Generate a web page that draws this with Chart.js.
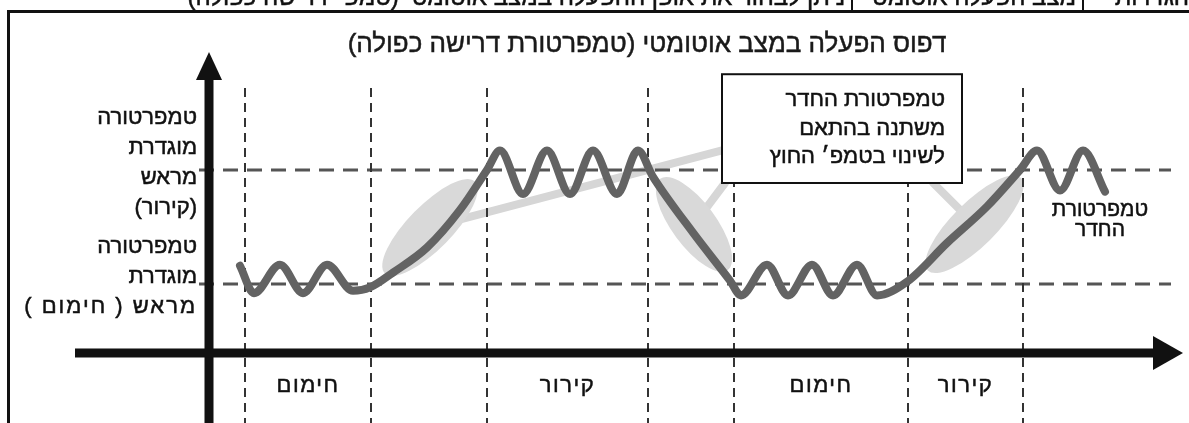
<!DOCTYPE html>
<html lang="he">
<head>
<meta charset="utf-8">
<script src="https://cdn.jsdelivr.net/npm/chart.js@4/dist/chart.umd.min.js"></script>
<style>
html,body{margin:0;padding:0;background:#fff;overflow:hidden;}
#wrap{width:1189px;height:423px;position:relative;}
</style>
</head>
<body>
<div id="wrap"><canvas id="c"></canvas></div>
<script>
// ---- data (time in arbitrary units, temperature relative: heating setpoint = 0, cooling setpoint = 1)
const timeValues = [3.1,4.5,7.1,9.4,11.8,14.4,16.1,18.4,21.8,25.1,27.8,29.1,31.4,33.8,36.1,38.4,40.8,42.9,44.4,48.4,52.1,53.2,55.8,57.9,60.3,62.4,64.8,66.8,69.8,73.8,77.8,81.1,82.8,85.1,87.4,89.6];
const tempValues = [0.16,-0.08,0.17,-0.08,0.17,-0.06,-0.03,0.10,0.32,0.65,1.0,1.17,0.79,1.17,0.79,1.17,0.79,1.17,0.94,0.45,0.03,-0.10,0.17,-0.10,0.17,-0.10,0.17,-0.10,0.02,0.36,0.68,1.0,1.17,0.82,1.17,0.81];
const heatSetpoint = 0;
const coolSetpoint = 1;
const modeBoundaries = [3.6,16.2,27.8,43.9,52.5,69.9,81.4];
const modeStarts = [3.6,27.8,52.5,69.9];
const modeEnds = [16.2,43.9,69.9,81.4];
const modeLabels = ['חימום','קירור','חימום','קירור'];
const highlightStarts = [18.0,45.0,72.1];
const highlightEnds = [26.6,51.4,81.0];
const coolLabelLines = ['טמפרטורה','מוגדרת','מראש','(קירור)'];
const heatLabelLines = ['טמפרטורה','מוגדרת','מראש ( חימום )'];
const titleText = 'דפוס הפעלה במצב אוטומטי (טמפרטורת דרישה כפולה)';
const noteLines = ['טמפרטורת החדר','משתנה בהתאם','לשינוי בטמפ׳ החוץ'];
const seriesLabelLines = ['טמפרטורת','החדר'];
const headerCells = ['ניתן לבחור את אופן ההפעלה במצב אוטומטי (טמפ׳ דרישה כפולה)','מצב הפעלה אוטומטי','הגדרות'];

const FONT = '"Liberation Sans", Arial, "DejaVu Sans", sans-serif';

function interp(t){
  for(let i=0;i<timeValues.length-1;i++){
    if(t>=timeValues[i] && t<=timeValues[i+1]){
      const f=(t-timeValues[i])/(timeValues[i+1]-timeValues[i]);
      return tempValues[i]+f*(tempValues[i+1]-tempValues[i]);
    }
  }
  return tempValues[tempValues.length-1];
}

function txt(ctx,s,x,y,size,align,color,baseline,spacing){
  ctx.save();
  ctx.direction='rtl';
  ctx.font=size+'px '+FONT;
  if(spacing) ctx.letterSpacing=spacing+'px';
  ctx.textAlign=align;
  ctx.textBaseline=baseline||'middle';
  ctx.fillStyle=color||'#111';
  ctx.strokeStyle=color||'#111';
  ctx.lineWidth=0.5;
  ctx.fillText(s,x,y);
  ctx.strokeText(s,x,y);
  ctx.restore();
}

const diagramPlugin = {
  id:'diagram',
  beforeDatasetsDraw(chart){
    const ctx=chart.ctx;
    const xs=chart.scales.x, ys=chart.scales.y;
    const px=v=>xs.getPixelForValue(v), py=v=>ys.getPixelForValue(v);
    const W=chart.width, H=chart.height;
    ctx.save();
    ctx.fillStyle='#fff'; ctx.fillRect(0,0,W,H);

    // cropped header row of the page
    txt(ctx,headerCells[0],845,5,24,'right','#111','alphabetic');
    txt(ctx,headerCells[1],1076,5,24,'right','#111','alphabetic');
    txt(ctx,headerCells[2],1189,5,24,'right','#111','alphabetic');
    ctx.fillStyle='#111';
    ctx.fillRect(7,10,W-7,3);
    ctx.fillRect(851,0,2,11);
    ctx.fillRect(1082,0,2,11);
    ctx.fillRect(7,10,3,H-10);

    // title
    txt(ctx,titleText,647,45,26,'center','#1a1a1a');

    // box geometry
    const bx0=px(51.3), bx1=px(75.3), by0=py(1.84), by1=py(0.886);

    // highlight ellipses + connectors
    const offs=[[-2,-4],[3,-4],[0,9]];
    const anchors=[[bx0,by0+0.70*(by1-by0)],[bx0+3,by1],[bx0+0.88*(bx1-bx0),by1]];
    const ells=[];
    for(let i=0;i<highlightStarts.length;i++){
      const x0=px(highlightStarts[i]), y0=py(interp(highlightStarts[i]));
      const x1=px(highlightEnds[i]), y1=py(interp(highlightEnds[i]));
      const cx=(x0+x1)/2+offs[i][0], cy=(y0+y1)/2+offs[i][1];
      const len=Math.hypot(x1-x0,y1-y0)/2+3;
      const ang=Math.atan2(y1-y0,x1-x0);
      ells.push({cx,cy,len,ang});
    }
    ctx.strokeStyle='#d6d6d6'; ctx.lineWidth=8; ctx.lineCap='round';
    ells.forEach((e,i)=>{
      ctx.beginPath(); ctx.moveTo(e.cx,e.cy); ctx.lineTo(anchors[i][0],anchors[i][1]); ctx.stroke();
    });
    ctx.fillStyle='#d9d9d9';
    ells.forEach(e=>{
      ctx.beginPath(); ctx.ellipse(e.cx,e.cy,e.len,22,e.ang,0,Math.PI*2); ctx.fill();
    });

    // horizontal dashed setpoint lines
    ctx.setLineDash([15,9]); ctx.lineWidth=3; ctx.strokeStyle='#555'; ctx.lineCap='butt';
    [heatSetpoint,coolSetpoint].forEach(v=>{
      ctx.beginPath(); ctx.moveTo(px(-1.0),py(v)); ctx.lineTo(px(96.2),py(v)); ctx.stroke();
    });
    // vertical dashed mode boundaries
    ctx.setLineDash([9,6]); ctx.lineWidth=2; ctx.strokeStyle='#333';
    modeBoundaries.forEach(b=>{
      ctx.beginPath(); ctx.moveTo(px(b),88); ctx.lineTo(px(b),H); ctx.stroke();
    });
    ctx.setLineDash([]);

    // axes with arrows
    const ax=px(0), ay=py(-0.605);
    ctx.fillStyle='#111';
    ctx.fillRect(ax-4.5,py(2.035)+20,9,H-py(2.035));
    ctx.beginPath(); ctx.moveTo(ax,py(2.035)); ctx.lineTo(ax-13,py(2.035)+28); ctx.lineTo(ax+13,py(2.035)+28); ctx.closePath(); ctx.fill();
    ctx.fillRect(75,ay-4.5,px(97.4)-75-20,9);
    ctx.beginPath(); ctx.moveTo(px(97.4),ay); ctx.lineTo(px(97.4)-30,ay-17); ctx.lineTo(px(97.4)-30,ay+17); ctx.closePath(); ctx.fill();

    // setpoint labels
    const lx=197;
    const coolOff=[-52,-22,8,38];
    coolLabelLines.forEach((s,i)=>txt(ctx,s,lx,py(coolSetpoint)+coolOff[i],22,'right','#111'));
    const heatOff=[-37,-7,23];
    heatLabelLines.forEach((s,i)=>txt(ctx,s,lx,py(heatSetpoint)+heatOff[i],22,'right','#111',null,i===2?2:0));

    // mode labels
    modeLabels.forEach((s,i)=>txt(ctx,s,px((modeStarts[i]+modeEnds[i])/2),ay+33,22,'center','#111',null,1.5));

    // note box
    ctx.fillStyle='#fff'; ctx.fillRect(bx0,by0,bx1-bx0,by1-by0);
    ctx.strokeStyle='#111'; ctx.lineWidth=2; ctx.strokeRect(bx0,by0,bx1-bx0,by1-by0);
    noteLines.forEach((s,i)=>txt(ctx,s,bx1-17,by0+26+i*28.5,22,'right','#111'));

    // series label
    const lastX=px(timeValues[timeValues.length-1]);
    seriesLabelLines.forEach((s,i)=>txt(ctx,s,lastX-5,210+i*20,21,'center','#111'));
    ctx.restore();
  }
};

new Chart(document.getElementById('c'),{
  type:'line',
  data:{datasets:[{
    label:'טמפרטורת החדר',
    data:timeValues.map((t,i)=>({x:t,y:tempValues[i]})),
    borderColor:'#636363',
    borderWidth:8,
    pointRadius:0,
    fill:false,
    cubicInterpolationMode:'monotone',
    borderCapStyle:'round',
    borderJoinStyle:'round'
  }]},
  options:{
    responsive:true,
    maintainAspectRatio:false,
    animation:false,
    events:[],
    layout:{padding:0},
    plugins:{legend:{display:false},tooltip:{enabled:false}},
    scales:{
      x:{type:'linear',display:false,min:-20.9,max:98.0},
      y:{type:'linear',display:false,min:-1.219,max:2.491}
    }
  },
  plugins:[diagramPlugin]
});
</script>
</body>
</html>
